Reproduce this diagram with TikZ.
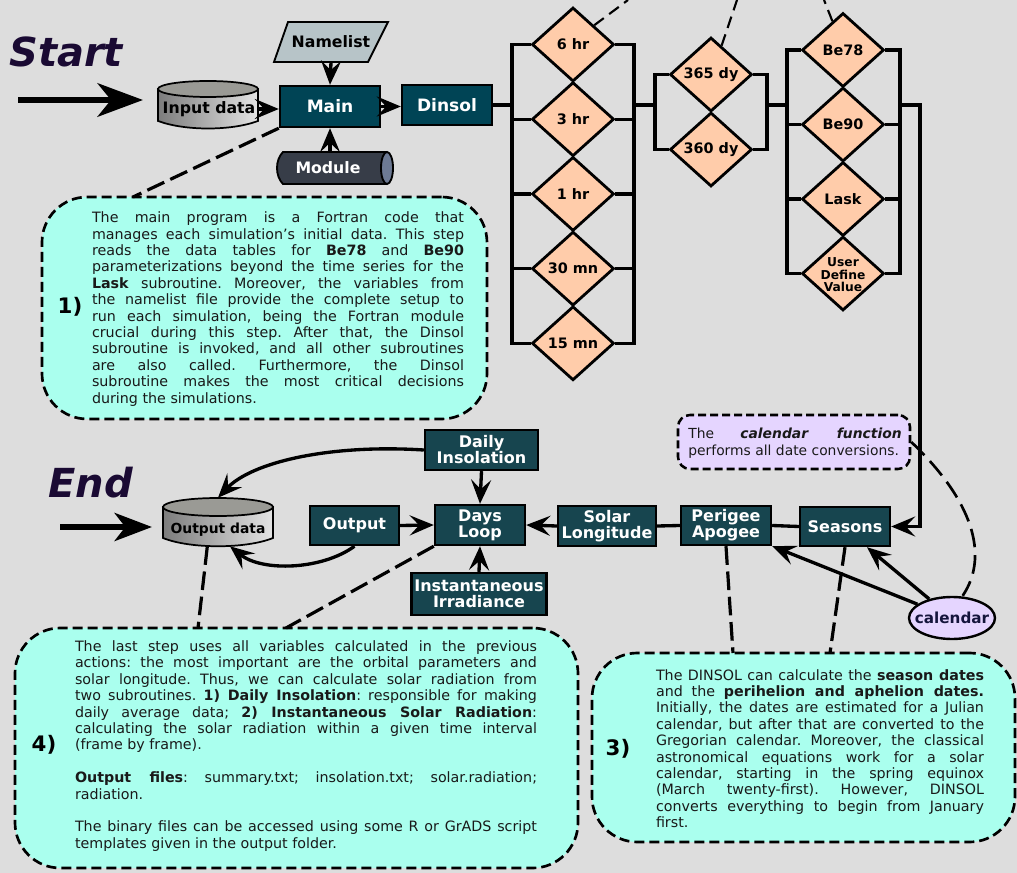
\documentclass[tikz,border=0pt]{standalone}
\usepackage{fontspec}
\setmainfont{DejaVu Sans}
\usetikzlibrary{arrows.meta, positioning, calc, shapes.geometric}

\hyphenpenalty=10000
\exhyphenpenalty=10000

\definecolor{bgray}{HTML}{DDDDDD}
\definecolor{tealA}{HTML}{004455}
\definecolor{tealB}{HTML}{17454F}
\definecolor{peach}{HTML}{FFCCAA}
\definecolor{mint}{HTML}{AAFFEE}
\definecolor{lilac}{HTML}{E5D5FF}
\definecolor{ink}{HTML}{1A0A33}
\definecolor{navy}{HTML}{14143C}
\definecolor{slate}{HTML}{B7C4C8}
\definecolor{modbody}{HTML}{373D48}
\definecolor{modend}{HTML}{6D7A94}
\definecolor{dbtop}{HTML}{9A9A95}
\definecolor{dbdark}{HTML}{7C7C7C}
\definecolor{dblight}{HTML}{E4E4E4}

\tikzset{
  proc/.style={draw=black, line width=1.8pt, fill=tealB, text=white, align=center,
    inner sep=0pt, font=\bfseries\fontsize{12}{12}\selectfont},
  choice/.style={diamond, draw=black, line width=2.1pt, fill=peach, aspect=1.1,
    minimum width=61.5pt, minimum height=55.5pt, inner sep=0pt,
    font=\bfseries\fontsize{10.8}{11}\selectfont},
  dbtext/.style={inner sep=0pt, font=\bfseries\fontsize{11.8}{12}\selectfont},
  link/.style={line width=2.5pt},
  flow/.style={line width=2.5pt, -{Stealth[length=18pt, width=15pt, inset=7pt]}},
  bigarrow/.style={line width=5pt, -{Stealth[length=34pt, width=25pt, inset=10pt]}},
  hint/.style={line width=2.4pt, dash pattern=on 14pt off 5pt},
  thinhint/.style={line width=1.6pt, dash pattern=on 9pt off 5pt},
  calloutbox/.style={draw=black, line width=2pt, dash pattern=on 7.5pt off 3.75pt,
    fill=mint, rounded corners=34pt, inner sep=0pt},
  notetext/.style={align=justify, inner sep=0pt, text=black!90,
    font=\frenchspacing\fontsize{10.7}{12.3}\selectfont},
  stepno/.style={inner sep=0pt, font=\bfseries\fontsize{16}{16}\selectfont},
  headline/.style={anchor=base west, inner sep=0pt, text=ink,
    font=\bfseries\itshape\fontsize{30}{30}\selectfont}
}

\begin{document}
\begin{tikzpicture}[x=0.75pt, y=-0.75pt, >=Stealth]
\useasboundingbox (0,0) rectangle (1017,873);
\fill[bgray] (0,0) rectangle (1017,873);

% start side
\node[headline] (start) at (9,67) {Start};
\coordinate (s0) at (18,100);
\coordinate (s1) at (143,100);
\draw[bigarrow] (s0) -- (s1);

\draw[left color=dbdark, right color=dblight, line width=1.3pt]
  (158,89) -- (158,121) .. controls (185,131) and (231,131) .. (258,121) -- (258,89) -- cycle;
\draw[fill=dbtop, line width=1.3pt] (208,89) ellipse [x radius=50, y radius=8];
\node[dbtext, minimum width=75pt, minimum height=36pt] (inp) at (209,109) {Input data};

\draw[fill=slate, line width=1.4pt] (288,22) -- (388,22) -- (368,62) -- (274,62) -- cycle;
\node[dbtext, minimum width=70pt, minimum height=30pt] (nml) at (331,42) {Namelist};

\draw[fill=modbody, line width=1.4pt] (387,152) -- (283,152) .. controls (275,160) and (275,176) .. (283,184) -- (387,184);
\draw[fill=modend, line width=1.4pt] (387,168) ellipse [x radius=6, y radius=16];
\node[dbtext, text=white, minimum width=70pt, minimum height=24pt] (mod) at (328,168) {Module};

\node[proc, fill=tealA, minimum width=75pt, minimum height=30.75pt,
  font=\bfseries\fontsize{12.8}{13}\selectfont] (main) at (330,106.5) {Main};
\node[proc, fill=tealA, minimum width=67.5pt, minimum height=30pt,
  font=\bfseries\fontsize{12.8}{13}\selectfont] (dinsol) at (447,105) {Dinsol};

\draw[flow] (inp.east) -- (inp.east -| main.west);
\draw[flow] (nml.south) -- (main.north);
\draw[flow] (mod.north -| main.south) -- (main.south);
\draw[flow] (main.east) -- (main.east -| dinsol.west);

% time step, year length and parameterization choices
\coordinate (b1l) at (512,0);
\coordinate (b1r) at (634,0);
\coordinate (b2l) at (655,0);
\coordinate (b2r) at (767,0);
\coordinate (b3l) at (787,0);
\coordinate (b3r) at (900,0);
\coordinate (b3x) at (920,0);

\foreach \lbl [count=\i from 0] in {6 hr, 3 hr, 1 hr, 30 mn, 15 mn}
  \node[choice] (t\i) at (573,{44.5+74.7*\i}) {\lbl};
\foreach \lbl [count=\i from 0] in {365 dy, 360 dy}
  \node[choice] (y\i) at (711,{74.5+75*\i}) {\lbl};
\foreach \lbl [count=\i from 0] in {Be78, Be90, Lask, {}}
  \node[choice] (m\i) at (843,{50+74.5*\i}) {\lbl};
\node[inner sep=0pt, align=center, font=\bfseries\fontsize{9.2}{9.3}\selectfont] (udv) at (843,275) {User\\Define\\Value};

\draw[link] (t0.west) -- (t0.west -| b1l) -- (t4.west -| b1l) -- (t4.west);
\draw[link] (t0.east) -- (t0.east -| b1r) -- (t4.east -| b1r) -- (t4.east);
\foreach \i in {1,2,3}
  \draw[link] (t\i.west) -- (t\i.west -| b1l) (t\i.east) -- (t\i.east -| b1r);
\draw[link] (y0.west) -- (y0.west -| b2l) -- (y1.west -| b2l) -- (y1.west);
\draw[link] (y0.east) -- (y0.east -| b2r) -- (y1.east -| b2r) -- (y1.east);
\draw[link] (m0.west) -- (m0.west -| b3l) -- (m3.west -| b3l) -- (m3.west);
\draw[link] (m0.east) -- (m0.east -| b3r) -- (m3.east -| b3r) -- (m3.east);
\foreach \i in {1,2}
  \draw[link] (m\i.west) -- (m\i.west -| b3l) (m\i.east) -- (m\i.east -| b3r);

\draw[link] (dinsol.east) -- (dinsol.east -| b1l);
\draw[link] (dinsol.east -| b1r) -- (dinsol.east -| b2l);
\draw[link] (dinsol.east -| b2r) -- (dinsol.east -| b3l);

\coordinate (up1) at (628,0);
\coordinate (up2) at (737,0);
\coordinate (up3) at (824,0);
\draw[thinhint] (t0.north east) -- (up1);
\draw[thinhint] ($(y0.north)!0.25!(y0.east)$) -- (up2);
\draw[thinhint] ($(m0.north)!0.25!(m0.west)$) -- (up3);

% step 1
\node[calloutbox, minimum width=333.75pt, minimum height=166.5pt] (c1) at (264.5,308) {};
\coordinate (c1tip) at (133,197);
\draw[hint] (main.south west) -- (c1tip);
\node[stepno] (c1no) at (70,307) {1)};
\node[notetext, text width=279pt] (c1txt) at (278,309) {%
The main program is a Fortran code that\linebreak
manages each simulation's initial data. This step\linebreak
reads the data tables for \textbf{Be78} and \textbf{Be90}\linebreak
parameterizations beyond the time series for the\linebreak
\textbf{Lask} subroutine. Moreover, the variables from\linebreak
the namelist file provide the complete setup to\linebreak
run each simulation, being the Fortran module\linebreak
crucial during this step. After that, the Dinsol\linebreak
subroutine is invoked, and all other subroutines\linebreak
are also called. Furthermore, the Dinsol\linebreak
subroutine makes the most critical decisions\linebreak
during the simulations.};

% end side
\node[headline] (end) at (48,497) {End};
\coordinate (e0) at (60,527);
\coordinate (e1) at (152,527);
\draw[line width=4.5pt, -{Stealth[length=28pt, width=21pt, inset=8pt]}] (e0) -- (e1);

\draw[left color=dbdark, right color=dblight, line width=1.3pt]
  (163,507) -- (163,538) .. controls (190,549) and (246,549) .. (273,538) -- (273,507) -- cycle;
\draw[fill=dbtop, line width=1.3pt] (218,507) ellipse [x radius=55, y radius=9];
\node[minimum width=82.5pt, minimum height=36pt, inner sep=0pt] (outdb) at (218,522) {};
\node[dbtext, font=\bfseries\fontsize{10.4}{11}\selectfont] (outdbtxt) at (218,530) {Output data};

\node[proc, minimum width=66.75pt, minimum height=29.25pt] (output) at (354.5,525.5) {Output};
\node[proc, minimum width=67.5pt, minimum height=30pt] (days) at (480,525) {Days\\Loop};
\node[proc, minimum width=84.75pt, minimum height=30pt] (dins) at (481.5,450) {Daily\\Insolation};
\node[proc, minimum width=101.25pt, minimum height=31.5pt] (inst) at (479,594) {Instantaneous\\Irradiance};
\node[proc, minimum width=73.5pt, minimum height=30pt] (solar) at (607,526) {Solar\\Longitude};
\node[proc, minimum width=67.5pt, minimum height=29.25pt] (peri) at (726,525.5) {Perigee\\Apogee};
\node[proc, minimum width=67.5pt, minimum height=29.25pt] (seasons) at (845,526.5) {Seasons};
\node[ellipse, draw=black, line width=1.8pt, fill=lilac, minimum width=64.5pt, minimum height=31.5pt,
  inner sep=0pt] (cal) at (952,618) {};
\node[inner sep=0pt, text=navy, font=\bfseries\fontsize{11.4}{12}\selectfont] (caltxt) at (952,618) {calendar};

\draw[flow] (output.east) -- (days.west);
\draw[flow] (dins.south) -- (days.north);
\draw[flow] (inst.north) -- (days.south);
\draw[flow] (solar.west) -- (days.east);
\draw[link] (solar.east) -- (peri.west);
\draw[link] (peri.east) -- (seasons.west);
\draw[flow] (dinsol.east -| b3r) -- (dinsol.east -| b3x) -- (b3x |- seasons.east) -- (seasons.east);
\draw[flow] (cal) -- (peri.south east);
\draw[flow] (cal) -- ([xshift=16.5pt]seasons.south);
\draw[flow] (dins.west) .. controls (330,444) and (252,462) .. (outdb.north);
\draw[flow] (output.south) .. controls (322,570) and (262,572) .. ([xshift=9pt]outdb.south);

% calendar note
\node[draw=black, line width=1.9pt, dash pattern=on 6pt off 3pt, fill=lilac, rounded corners=9pt,
  minimum width=174pt, minimum height=40.5pt, inner sep=0pt] (calnote) at (794,442) {};
\node[notetext, text width=160pt, font=\frenchspacing\fontsize{10.4}{12.3}\selectfont]
  (calnotetxt) at (795,443) {%
The \textbf{\itshape calendar function}\linebreak performs all date conversions.};
\draw[line width=2pt, dash pattern=on 14pt off 6pt] (calnote.east) .. controls (972,500) and (990,555) .. ([xshift=8pt]cal.north);

% step 4
\node[calloutbox, minimum width=422.25pt, minimum height=180pt] (c4) at (296.5,748) {};
\coordinate (c4tipa) at (198,628);
\coordinate (c4tipb) at (286,628);
\draw[hint] ([xshift=-8pt]outdb.south) -- (c4tipa);
\draw[hint] (days.south west) -- (c4tipb);
\node[stepno] (c4no) at (44,745) {4)};
\node[notetext, text width=346.5pt] (c4txt) at (306,746) {%
The last step uses all variables calculated in the previous\linebreak
actions: the most important are the orbital parameters and\linebreak
solar longitude. Thus, we can calculate solar radiation from\linebreak
two subroutines. \textbf{1) Daily Insolation}: responsible for making\linebreak
daily average data; \textbf{2) Instantaneous Solar Radiation}:\linebreak
calculating the solar radiation within a given time interval\linebreak
(frame by frame).\par\vspace{12.3pt}
\textbf{Output files}: summary.txt; insolation.txt; solar.radiation;\linebreak
radiation.\par\vspace{12.3pt}
The binary files can be accessed using some R or GrADS script\linebreak
templates given in the output folder.};

% step 3
\node[calloutbox, minimum width=317.25pt, minimum height=141.75pt] (c3) at (803.5,747.5) {};
\coordinate (c3tipa) at (733,653);
\coordinate (c3tipb) at (830,653);
\draw[hint] (peri.south) -- (c3tipa);
\draw[hint] (seasons.south) -- (c3tipb);
\node[stepno] (c3no) at (618,749) {3)};
\node[notetext, text width=246pt] (c3txt) at (820,748.5) {%
The DINSOL can calculate the \textbf{season dates}\linebreak
and the \textbf{perihelion and aphelion dates.}\linebreak
Initially, the dates are estimated for a Julian\linebreak
calendar, but after that are converted to the\linebreak
Gregorian calendar. Moreover, the classical\linebreak
astronomical equations work for a solar\linebreak
calendar, starting in the spring equinox\linebreak
(March twenty-first). However, DINSOL\linebreak
converts everything to begin from January\linebreak
first.};
\end{tikzpicture}
\end{document}
